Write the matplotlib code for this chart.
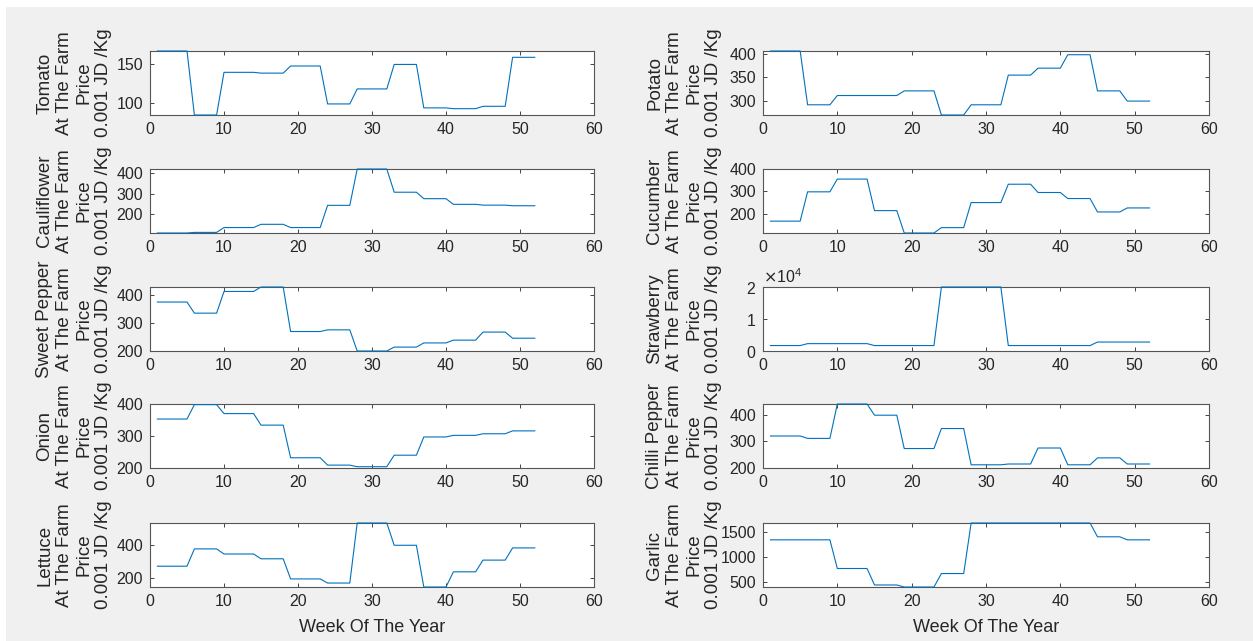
import numpy as np
import matplotlib
matplotlib.use('Agg')
import matplotlib.pyplot as plt
from matplotlib.patches import Rectangle

# weeks per month block (weekly series is monthly price held for each week)
weeks_per_month = [5, 4, 5, 4, 5, 4, 5, 4, 4, 4, 4, 4]
weeks = np.arange(1, 53)

crops = ['Tomato', 'Potato', 'Cauliflower', 'Cucumber', 'Sweet Pepper',
         'Strawberry', 'Onion', 'Chilli Pepper', 'Lettuce', 'Garlic']

tomato = [166, 85, 139, 138, 147, 99, 118, 149, 94, 93, 96, 158]
potato = [407, 291, 311, 311, 321, 269, 291, 355, 370, 399, 321, 299]
cauliflower = [105, 108, 132, 148, 132, 242, 422, 307, 275, 247, 243, 240]
cucumber = [167, 298, 355, 214, 114, 138, 250, 332, 295, 268, 208, 226]
sweet_pepper = [376, 336, 414, 430, 270, 276, 200, 214, 229, 239, 268, 246]
strawberry = [1700, 2300, 2300, 1700, 1700, 20000, 20000, 1700, 1700, 1700, 2800, 2800]
onion = [353, 398, 370, 334, 232, 209, 204, 240, 297, 302, 307, 316]
chilli_pepper = [320, 311, 440, 398, 273, 348, 212, 215, 275, 212, 238, 215]
lettuce = [271, 376, 345, 316, 194, 169, 533, 398, 145, 237, 308, 382]
garlic = [1340, 1340, 773, 447, 407, 673, 1673, 1673, 1673, 1673, 1400, 1340]

series = [tomato, potato, cauliflower, cucumber, sweet_pepper,
          strawberry, onion, chilli_pepper, lettuce, garlic]

ylims = [(85, 166), (269, 407), (105, 422), (114, 400), (200, 430),
         (0, 20000), (200, 400), (200, 440), (145, 533), (407, 1673)]
yticks = [[100, 150], [300, 350, 400], [200, 300, 400], [200, 300, 400], [200, 300, 400],
          [0, 10000, 20000], [200, 300, 400], [200, 300, 400], [200, 400], [500, 1000, 1500]]

plt.rcParams['font.family'] = ['Liberation Sans', 'DejaVu Sans']
txt = '#262626'
W, H = 1253, 641
fig = plt.figure(figsize=(W / 100, H / 100), dpi=100, facecolor='white')
fig.patches.append(Rectangle((6 / W, 0), 1 - 6 / W, 1 - 7 / H, transform=fig.transFigure,
                             facecolor='#f0f0f0', edgecolor='none', zorder=-10))

lefts = [150, 763]
ax_w = [444, 446]
lab_off = [38, 41]
tops = [51, 169, 287, 404, 523]
ax_h = 64

for i, (name, vals) in enumerate(zip(crops, series)):
    r, c = i // 2, i % 2
    ax = fig.add_axes([lefts[c] / W, 1 - (tops[r] + ax_h) / H, ax_w[c] / W, ax_h / H])
    y = np.repeat(vals, weeks_per_month)
    ax.plot(weeks, y, color='#0072BD', lw=0.8, clip_on=False, zorder=3)
    ax.set_xlim(0, 60)
    ax.set_ylim(*ylims[i])
    ax.set_xticks(range(0, 61, 10))
    ax.set_yticks(yticks[i])
    ax.tick_params(direction='in', top=True, right=True, length=3, width=0.6,
                   colors=txt, labelsize=11.5, pad=5)
    for s in ax.spines.values():
        s.set_color('#555555')
        s.set_linewidth(0.8)
    if name == 'Strawberry':
        ax.ticklabel_format(axis='y', style='sci', scilimits=(0, 0), useMathText=True)
        ax.yaxis.get_offset_text().set_fontsize(11.5)
        ax.yaxis.get_offset_text().set_color(txt)
    ax.set_ylabel(name + '\nAt The Farm\nPrice\n0.001 JD /Kg', fontsize=13.5,
                  color=txt, linespacing=1.2)
    ax.yaxis.set_label_coords(-lab_off[c] / ax_w[c], 0.5)
    if r == 4:
        ax.set_xlabel('Week Of The Year', fontsize=13, color=txt, labelpad=7)

fig.savefig('out.png', dpi=100, facecolor=fig.get_facecolor())
